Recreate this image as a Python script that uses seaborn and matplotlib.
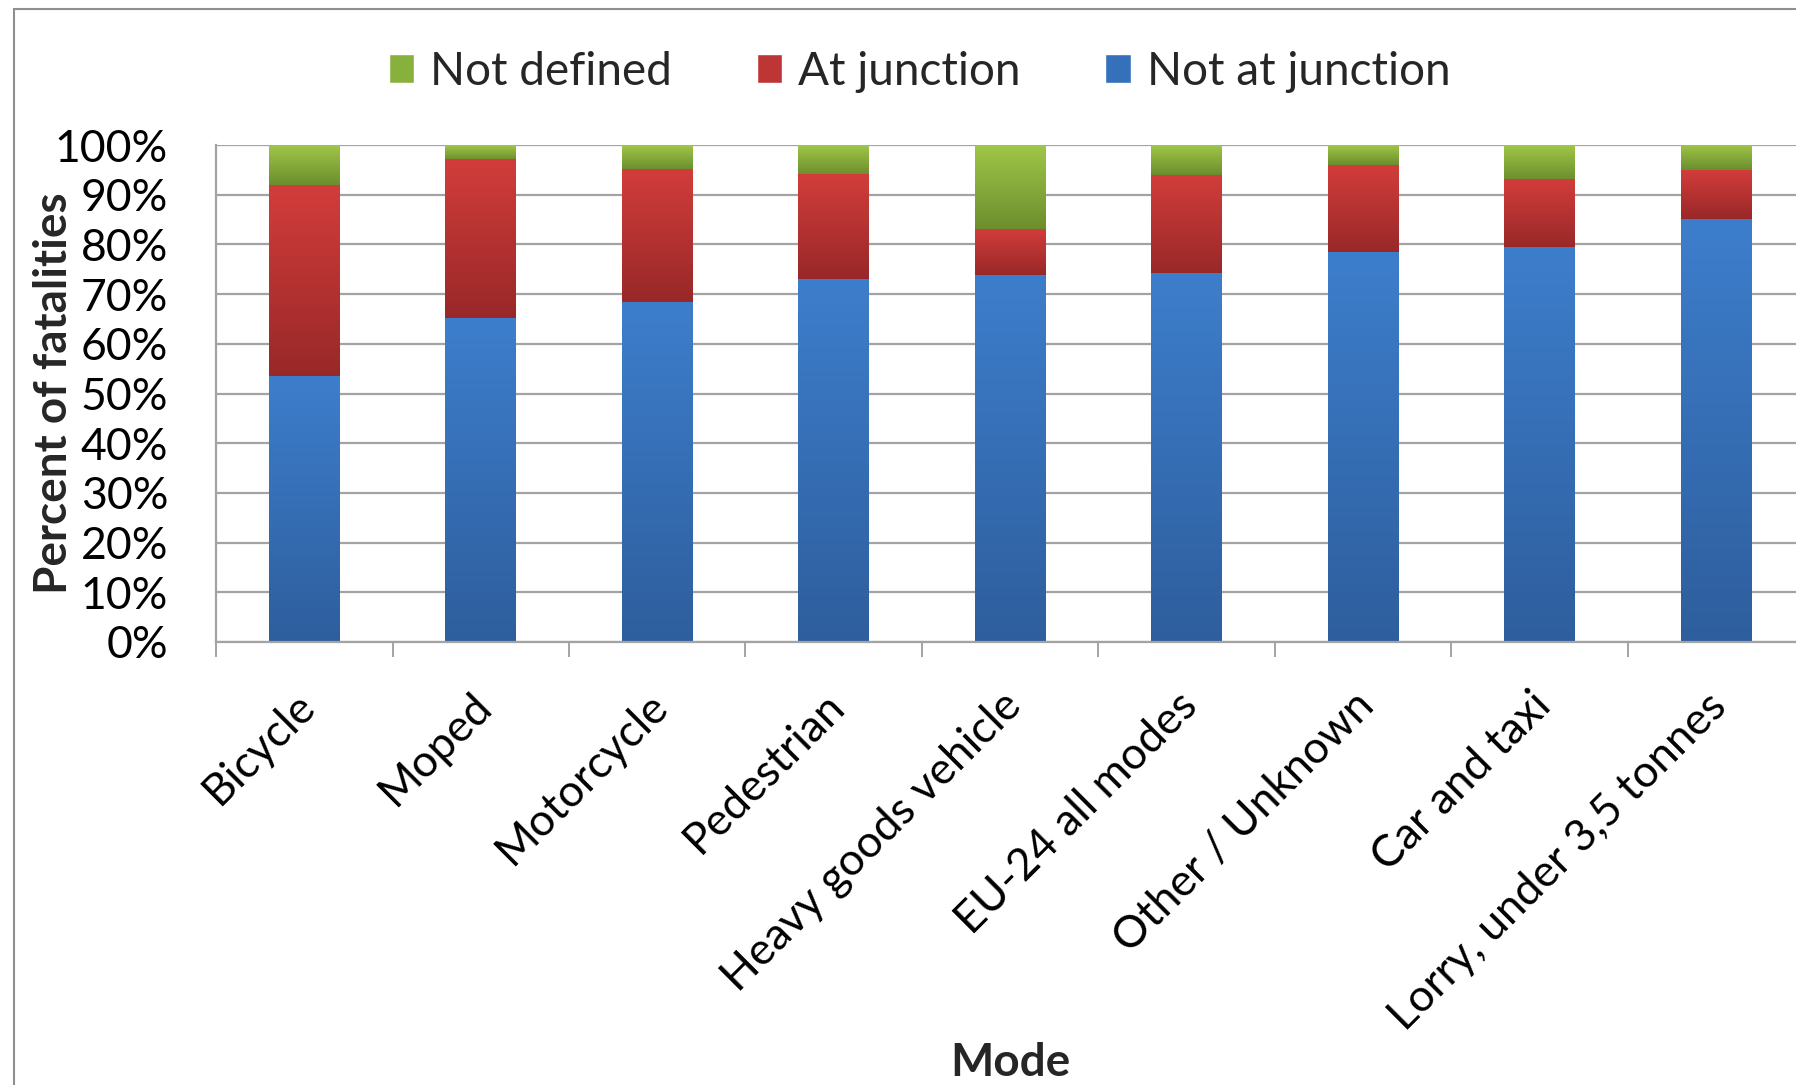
import matplotlib
matplotlib.use("Agg")
import matplotlib.pyplot as plt
import matplotlib.transforms as mtrans
import numpy as np
import seaborn as sns
from matplotlib.colors import LinearSegmentedColormap
from matplotlib.patches import Patch, Rectangle

# data (percent of fatalities)
modes = ["Bicycle", "Moped", "Motorcycle", "Pedestrian", "Heavy goods vehicle",
         "EU-24 all modes", "Other / Unknown", "Car and taxi",
         "Lorry, under 3,5 tonnes"]
not_at_junction = [53.4, 65.1, 68.4, 73.0, 73.8, 74.1, 78.3, 79.3, 85.1]
at_junction = [38.6, 31.9, 26.6, 21.0, 9.1, 19.9, 17.7, 13.7, 9.8]
not_defined = [8.0, 3.0, 5.0, 6.0, 17.1, 6.0, 4.0, 7.0, 5.1]
series_names = ["Not defined", "At junction", "Not at junction"]
y_ticks = [0, 10, 20, 30, 40, 50, 60, 70, 80, 90, 100]

# (top colour, bottom colour) of each gradient fill
grad_green = ("#9fc747", "#6c8d2e")
grad_red = ("#d23d3b", "#982828")
grad_blue = ("#3d7ecc", "#2e5e9d")
legend_cols = ["#88b03c", "#bd3535", "#3570bb"]

blue_top = np.array(not_at_junction)
red_top = blue_top + np.array(at_junction)
green_top = red_top + np.array(not_defined)

sns.set_style("white")
plt.rcParams["font.family"] = ["Lato", "DejaVu Sans"]

fig = plt.figure(figsize=(17.96, 10.85), dpi=100)
ax = fig.add_axes([0.1203, 0.4083, 0.8842, 0.4580])

# stacked bars drawn as overlapping cumulative bars
for tops, (c_top, c_bot) in zip([green_top, red_top, blue_top],
                                [grad_green, grad_red, grad_blue]):
    sns.barplot(x=modes, y=tops, color=c_bot, saturation=1, width=0.4,
                linewidth=0, ax=ax)

# vertical gradient on every visible segment
grad = np.linspace(0, 1, 256).reshape(-1, 1)
lowers = [red_top, blue_top, np.zeros(len(modes))]
for cont, low, (c_top, c_bot) in zip(ax.containers, lowers,
                                     [grad_green, grad_red, grad_blue]):
    cmap = LinearSegmentedColormap.from_list("g", [c_bot, c_top])
    for bar, b0 in zip(cont, low):
        x0 = bar.get_x()
        ax.imshow(grad, extent=[x0, x0 + bar.get_width(), b0, bar.get_height()],
                  cmap=cmap, aspect="auto", origin="lower", zorder=2,
                  interpolation="bilinear")

ax.set_xlim(-0.5, len(modes) - 0.5)
ax.set_ylim(0, 100)
ax.set_axisbelow(True)

grid_col = "#a3a3a3"
ax.set_yticks(y_ticks)
ax.set_yticklabels([f"{v}%" for v in y_ticks])
ax.yaxis.grid(True, color=grid_col, linewidth=1.6)
ax.xaxis.grid(False)
ax.tick_params(axis="y", length=11.5, width=1.4, color=grid_col, pad=23,
               labelsize=32, labelcolor="black")

ax.set_xticks(range(len(modes)))
ax.set_xticklabels(modes, rotation=45, ha="right", va="top",
                   rotation_mode="anchor")
ax.tick_params(axis="x", which="major", length=0, pad=31, labelsize=32,
               labelcolor="black")
shift = mtrans.ScaledTranslation(-0.10, 0, fig.dpi_scale_trans)
for lab in ax.get_xticklabels():
    lab.set_transform(lab.get_transform() + shift)
ax.set_xticks(np.arange(-0.5, len(modes), 1), minor=True)
ax.tick_params(axis="x", which="minor", length=11, width=1.4, color=grid_col,
               direction="out", bottom=True)

for side in ["top", "right"]:
    ax.spines[side].set_visible(False)
for side in ["left", "bottom"]:
    ax.spines[side].set_color(grid_col)
    ax.spines[side].set_linewidth(1.6)

ax.set_ylabel("Percent of fatalities", fontsize=33, fontweight="bold")
ax.yaxis.set_label_coords(-0.089, 0.5)
ax.set_xlabel("Mode", fontsize=33, fontweight="bold")
ax.xaxis.set_label_coords(0.5, -0.805)

handles = [Patch(facecolor=c) for c in legend_cols]
fig.legend(handles, series_names, loc="center", bbox_to_anchor=(0.512, 0.934),
           ncol=3, frameon=False, fontsize=33, handlelength=0.55,
           handleheight=0.62, handletextpad=0.35, columnspacing=1.85)

# outer chart border (cut off at right and bottom)
fig.patches.append(Rectangle((14 / 1796, -0.05), 1.1, 1 - 9 / 1085 + 0.05,
                             transform=fig.transFigure, fill=False,
                             edgecolor="#8f8f8f", linewidth=1.5))

fig.savefig("out.png", dpi=100)
